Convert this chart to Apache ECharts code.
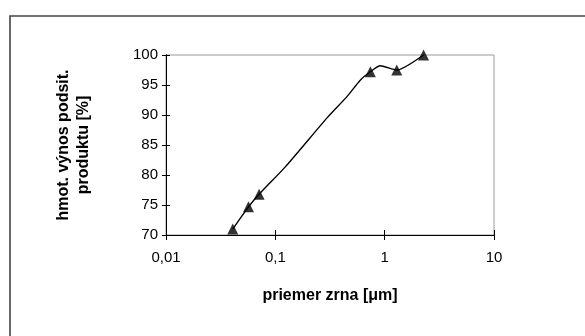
<!DOCTYPE html>
<html>
<head>
<meta charset="utf-8">
<script src="https://cdn.jsdelivr.net/npm/echarts@6/dist/echarts.min.js"></script>
<style>
  html, body { margin: 0; padding: 0; background: #fff; }
  #chart { width: 585px; height: 336px; }
</style>
</head>
<body>
<div id="chart"></div>
<script>
// grain size [um] and cumulative undersize yield [%] - measured points (triangles)
const markerSize = [0.0408, 0.0568, 0.0711, 0.74, 1.29, 2.27];
const markerYield = [71.0, 74.7, 76.8, 97.2, 97.5, 100.0];

// the drawn curve passes through a few more bends than the markers
const curveSize = [0.0408, 0.0568, 0.0711, 0.124, 0.30, 0.454, 0.598, 0.74, 0.91, 1.29, 2.27];
const curveYield = [71.0, 74.7, 76.8, 81.4, 89.6, 93.1, 95.8, 97.2, 98.2, 97.5, 100.0];

const xTicks = [0.01, 0.1, 1, 10];
const yTicks = [70, 75, 80, 85, 90, 95, 100];

const font = 'Liberation Sans, Arial, sans-serif';
const chart = echarts.init(document.getElementById('chart'));

const fmtX = v => String(+(+v).toPrecision(3)).replace('.', ',');

const baseX = {
  type: 'log',
  logBase: 10,
  min: xTicks[0],
  max: xTicks[xTicks.length - 1],
  position: 'bottom',
  splitLine: { show: false },
  axisLine: { lineStyle: { color: '#000', width: 1 } }
};
const baseY = {
  type: 'value',
  min: yTicks[0],
  max: yTicks[yTicks.length - 1],
  interval: 5,
  position: 'left',
  splitLine: { show: false },
  axisLine: { show: true, lineStyle: { color: '#000', width: 1 } }
};

chart.setOption({
  animation: false,
  backgroundColor: '#fff',
  textStyle: { fontFamily: font },
  graphic: [{
    type: 'rect',
    shape: { x: 10, y: 16, width: 700, height: 500 },
    style: { fill: 'none', stroke: '#444', lineWidth: 1.6 },
    z: -10
  }],
  grid: {
    left: 166, right: 91, top: 55, bottom: 101,
    show: true, borderColor: '#999', borderWidth: 1
  },
  xAxis: [
    Object.assign({}, baseX, {
      name: 'priemer zrna [μm]',
      nameLocation: 'middle',
      nameGap: 53,
      nameTextStyle: { fontSize: 16, fontWeight: 'bold', color: '#000', fontFamily: font },
      axisTick: { show: true, length: 5, lineStyle: { color: '#000' } },
      axisLabel: { fontSize: 15, color: '#000', margin: 15, formatter: fmtX, fontFamily: font }
    }),
    Object.assign({}, baseX, {
      axisTick: { show: true, inside: true, length: 5, lineStyle: { color: '#000' } },
      axisLabel: { show: false }
    })
  ],
  yAxis: [
    Object.assign({}, baseY, {
      name: 'hmot. výnos podsit.\nproduktu [%]',
      nameLocation: 'middle',
      nameGap: 72,
      nameTextStyle: { fontSize: 16, fontWeight: 'bold', color: '#000', lineHeight: 20, align: 'center', fontFamily: font },
      axisTick: { show: true, length: 4, lineStyle: { color: '#000' } },
      axisLabel: { fontSize: 15, color: '#000', margin: 8, fontFamily: font }
    }),
    Object.assign({}, baseY, {
      axisTick: { show: true, inside: true, length: 4, lineStyle: { color: '#000' } },
      axisLabel: { show: false }
    })
  ],
  series: [
    {
      type: 'line',
      xAxisIndex: 0,
      yAxisIndex: 0,
      data: curveSize.map((x, i) => [x, curveYield[i]]),
      showSymbol: false,
      symbol: 'none',
      smooth: 0.2,
      lineStyle: { color: '#000', width: 1.4 },
      z: 3
    },
    {
      type: 'scatter',
      xAxisIndex: 0,
      yAxisIndex: 0,
      data: markerSize.map((x, i) => [x, markerYield[i]]),
      symbol: 'triangle',
      symbolSize: [11, 11],
      itemStyle: { color: '#000' },
      z: 4
    }
  ]
});
</script>
</body>
</html>
